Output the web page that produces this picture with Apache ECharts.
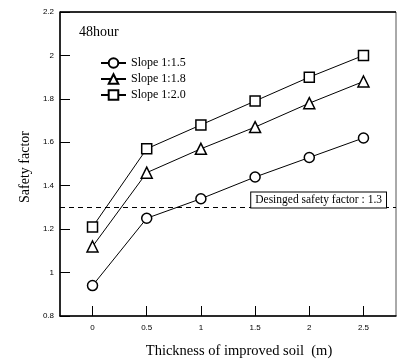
<!DOCTYPE html>
<html>
<head>
<meta charset="utf-8">
<style>
  html, body { margin: 0; padding: 0; background: #fff; }
  #chart { width: 398px; height: 360px; }
</style>
<script src="https://cdn.jsdelivr.net/npm/echarts@6/dist/echarts.min.js"></script>
</head>
<body>
<div id="chart"></div>
<script>
// Thickness of improved soil (m)
const thickness = [0, 0.5, 1, 1.5, 2, 2.5];
const xTicks = [0, 0.5, 1, 1.5, 2, 2.5];

// Safety factor after 48 hours for each slope gradient
const slope15 = [0.94, 1.25, 1.34, 1.44, 1.53, 1.62];
const slope18 = [1.12, 1.46, 1.57, 1.67, 1.78, 1.88];
const slope20 = [1.21, 1.57, 1.68, 1.79, 1.90, 2.00];

const designFactor = 1.3;

const serif = '"Liberation Serif", "Times New Roman", serif';
const sans = '"Liberation Sans", Arial, sans-serif';

function pairs(values) {
  return thickness.map((t, i) => [t, values[i]]);
}

function makeSeries(name, symbol, values, size) {
  return {
    name: name,
    type: 'line',
    data: pairs(values),
    symbol: symbol,
    symbolSize: size,
    showAllSymbol: true,
    lineStyle: { color: '#000', width: 1 },
    itemStyle: { color: '#fff', borderColor: '#000', borderWidth: 1.5 },
    emphasis: { disabled: true },
    z: 3
  };
}

const series = [
  makeSeries('Slope 1:1.5', 'circle', slope15, 10),
  makeSeries('Slope 1:1.8', 'triangle', slope18, 11),
  makeSeries('Slope 1:2.0', 'rect', slope20, 10)
];

series[0].markLine = {
  silent: true,
  symbol: ['none', 'none'],
  lineStyle: { color: '#000', type: [5, 4], width: 1 },
  label: {
    show: true,
    position: 'insideEndTop',
    distance: [10, 0],
    formatter: 'Desinged safety factor : ' + designFactor,
    fontFamily: serif,
    fontSize: 11.5,
    color: '#000',
    backgroundColor: '#fff',
    borderColor: '#000',
    borderWidth: 1,
    padding: [2, 4, 1, 4]
  },
  data: [{ yAxis: designFactor }]
};

const chart = echarts.init(document.getElementById('chart'), null, { renderer: 'canvas' });

chart.setOption({
  animation: false,
  backgroundColor: '#fff',
  grid: { left: 60, right: 2, top: 12, bottom: 44, show: true, borderColor: '#555', borderWidth: 1, backgroundColor: 'transparent' },
  legend: {
    orient: 'vertical',
    left: 100,
    top: 57,
    padding: 0,
    itemWidth: 25,
    itemHeight: 12,
    itemGap: 4,
    selectedMode: false,
    textStyle: { fontFamily: serif, fontSize: 12, color: '#000' },
    data: ['Slope 1:1.5', 'Slope 1:1.8', 'Slope 1:2.0']
  },
  xAxis: {
    type: 'value',
    min: -0.3,
    max: 2.8,
    axisLine: { show: true, onZero: false, lineStyle: { color: '#000', width: 1.5 } },
    axisTick: { show: true, inside: true, length: 10, customValues: xTicks, lineStyle: { color: '#000', width: 1 } },
    axisLabel: { customValues: xTicks, fontFamily: sans, fontSize: 8, color: '#000', margin: 8 },
    splitLine: { show: false }
  },
  yAxis: {
    type: 'value',
    min: 0.8,
    max: 2.2,
    interval: 0.2,
    axisLine: { show: true, onZero: false, lineStyle: { color: '#000', width: 1.5 } },
    axisTick: { show: true, inside: true, length: 10, lineStyle: { color: '#000', width: 1 } },
    axisLabel: { fontFamily: sans, fontSize: 8, color: '#000', margin: 6 },
    splitLine: { show: false }
  },
  graphic: [
    { type: 'line', shape: { x1: 60, y1: 12, x2: 396, y2: 12 }, style: { stroke: '#000', lineWidth: 1.5 }, z: 10 },
    { type: 'text', left: 79, top: 25, style: { text: '48hour', font: '14px ' + serif, fill: '#000' } },
    { type: 'text', x: 25, y: 167, rotation: Math.PI / 2, style: { text: 'Safety factor', font: '14px ' + serif, fill: '#000', align: 'center', verticalAlign: 'middle' } },
    { type: 'text', x: 239, y: 351, style: { text: 'Thickness of improved soil  (m)', font: '14.5px ' + serif, fill: '#000', align: 'center', verticalAlign: 'middle' } }
  ],
  series: series
});
</script>
</body>
</html>
